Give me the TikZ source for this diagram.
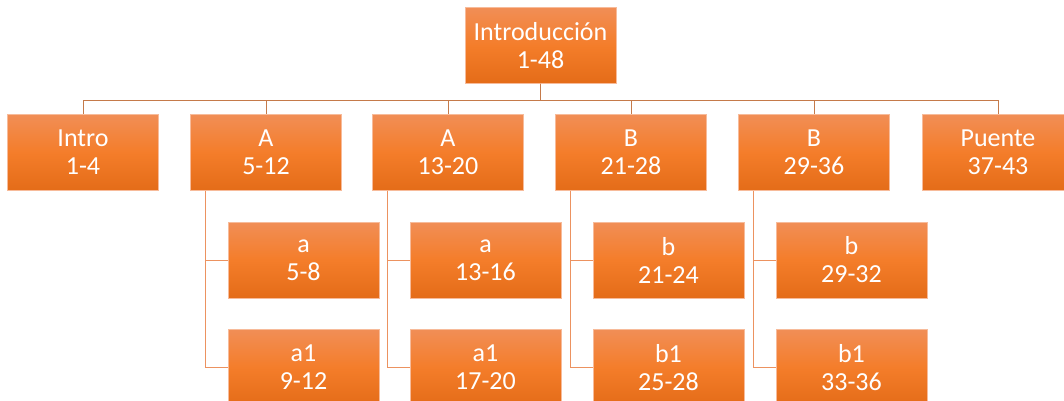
\documentclass[tikz,border=0pt]{standalone}
\usepackage{fontspec}
\setmainfont{Carlito}
\usetikzlibrary{positioning}
\definecolor{boxtop}{RGB}{241,142,86}
\definecolor{boxmid}{RGB}{244,125,42}
\definecolor{boxbot}{RGB}{228,108,24}
\definecolor{linkdark}{RGB}{197,122,74}
\definecolor{linklight}{RGB}{236,146,96}

\begin{document}
\begin{tikzpicture}
  [x=1pt, y=-1pt,
   part/.style={rectangle, draw=boxtop!60!white, thin, top color=boxtop, bottom color=boxbot, middle color=boxmid,
     minimum width=151pt, minimum height=76pt, inner sep=0pt, text=white, align=center,
     font=\fontsize{26}{28}\selectfont},
   link/.style={draw=linkdark, line width=1pt},
   sublink/.style={draw=linklight, line width=1pt}]
  \useasboundingbox (0,0) rectangle (1064,400);
  \clip (0,0) rectangle (1064,400);
  \node (intro) at (540.5,45.5) [part] {Introducción\\1-48};
  \foreach \n/\x/\lab/\pg in {1/83/Intro/1-4, 2/266/A/5-12, 3/448/A/13-20, 4/631/B/21-28, 5/814/B/29-36, 6/998/Puente/37-43}{
    \node (p\n) at (\x,152.5) [part] {\lab\\\pg};
    \draw [link] (intro.south) -- ++(0,17) -| (p\n.north);
  }
  % two sections under each of A, A, B, B
  \foreach \n/\la/\ra/\lb/\rb in {2/a/5-8/a1/9-12, 3/a/13-16/a1/17-20, 4/b/21-24/b1/25-28, 5/b/29-32/b1/33-36}{
    \node (s\n) at ([xshift=37.5pt, yshift=-107.5pt]p\n.center) [part] {\la\\\ra};
    \node (t\n) at ([xshift=37.5pt, yshift=-215pt]p\n.center) [part] {\lb\\\rb};
    \draw [sublink] ([xshift=15pt]p\n.south west) |- (s\n.west);
    \draw [sublink] ([xshift=15pt]p\n.south west) |- (t\n.west);
  }
\end{tikzpicture}
\end{document}
